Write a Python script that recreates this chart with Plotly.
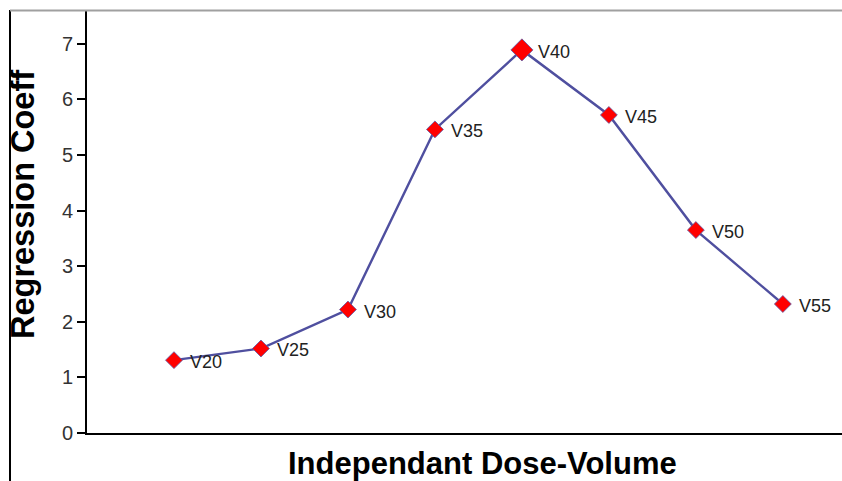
import plotly.graph_objects as go

categories = ["V20", "V25", "V30", "V35", "V40", "V45", "V50", "V55"]
coeff = [1.31, 1.52, 2.22, 5.46, 6.89, 5.72, 3.65, 2.32]
y_ticks = [0, 1, 2, 3, 4, 5, 6, 7]

W, H = 842, 481
ML, MR, MT, MB = 87, 0, 11, 48
PW, PH = W - ML - MR, H - MT - MB
FONT = "Arial, Liberation Sans, sans-serif"

def px_x(p):
    return (p - ML) / PW

def px_y(p):
    return (H - MB - p) / PH

marker_sizes = [13 if c != "V40" else 17 for c in categories]

fig = go.Figure()
fig.add_trace(go.Scatter(
    x=categories, y=coeff,
    mode="lines+markers",
    line=dict(color="#4F4F9F", width=2.4),
    marker=dict(symbol="diamond", size=marker_sizes, color="#FF0000", opacity=1,
                line=dict(color="#5A5AA8", width=0.8)),
    cliponaxis=False,
    showlegend=False,
))

annotations = []
for c, v in zip(categories, coeff):
    annotations.append(dict(
        x=c, y=v, xref="x", yref="y", text=c, showarrow=False,
        xanchor="left", yanchor="middle", xshift=14, yshift=-2,
        font=dict(family=FONT, size=18, color="#222222"),
    ))

annotations += [
    dict(text="<b>Regression Coeff</b>", xref="paper", yref="paper",
         x=px_x(23), y=px_y(205), textangle=-90, showarrow=False,
         xanchor="center", yanchor="middle",
         font=dict(family=FONT, size=32.5, color="black")),
    dict(text="<b>Independant Dose-Volume</b>", xref="paper", yref="paper",
         x=px_x(483), y=px_y(463), showarrow=False,
         xanchor="center", yanchor="middle",
         font=dict(family=FONT, size=31, color="black")),
]

fig.update_layout(
    width=W, height=H, autosize=False,
    margin=dict(l=ML, r=MR, t=MT, b=MB, pad=0),
    paper_bgcolor="white", plot_bgcolor="white",
    font=dict(family=FONT, color="#333333"),
    xaxis=dict(type="category", range=[-1, 7.68], showticklabels=False, ticks="",
               showgrid=False, zeroline=False, showline=True,
               linecolor="black", linewidth=2),
    yaxis=dict(range=[0, PH / 55.6], tickvals=y_ticks, ticks="outside", ticklen=8,
               tickwidth=1.5, tickcolor="black", showgrid=False, zeroline=False,
               showline=True, linecolor="black", linewidth=2,
               tickfont=dict(size=20, color="#333333")),
    shapes=[
        dict(type="line", xref="paper", yref="paper",
             x0=px_x(10), x1=px_x(10), y0=px_y(481), y1=px_y(10),
             line=dict(color="black", width=2)),
        dict(type="line", xref="paper", yref="paper",
             x0=px_x(10), x1=1, y0=px_y(10.5), y1=px_y(10.5),
             line=dict(color="#A0A0A0", width=2)),
    ],
    annotations=annotations,
)

fig.write_html(
    "out.html",
    config={"displayModeBar": False},
    post_script="document.body.style.margin='0';document.body.style.padding='0';"
                "document.body.style.overflow='hidden';",
)
